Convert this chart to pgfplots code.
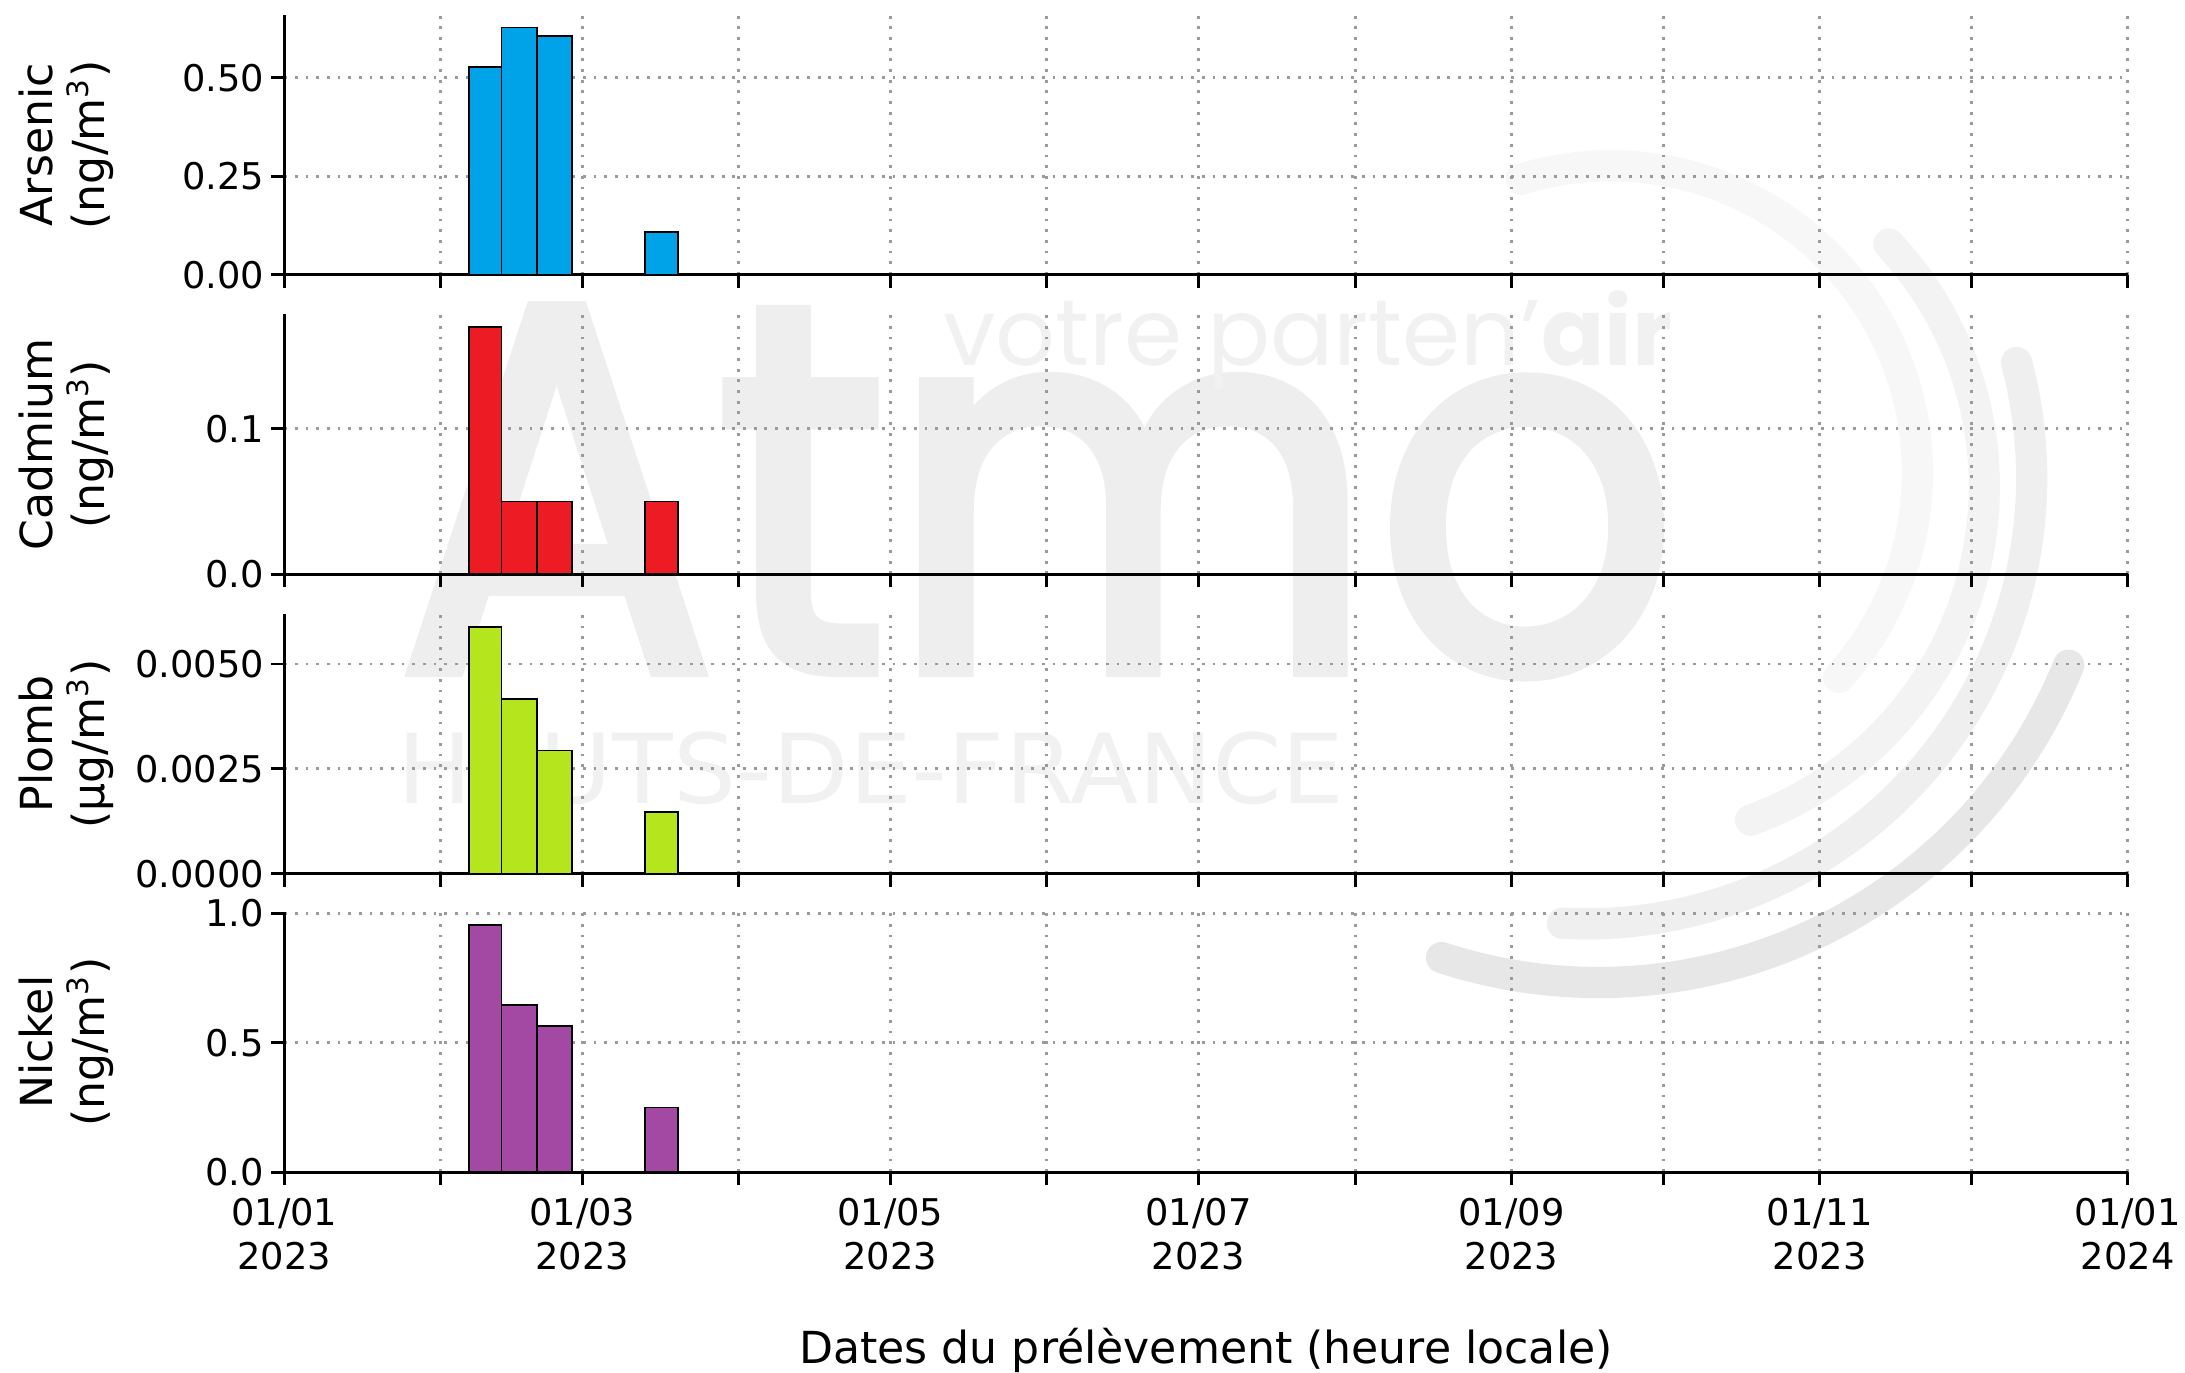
\documentclass[border=0pt]{standalone}
\usepackage{fontspec}
\setmainfont{DejaVu Sans}
\newfontfamily\logofont{Poppins}
\newfontfamily\logoheavy[FakeBold=2.5]{Poppins}
\usepackage{pgfplots}
\pgfplotsset{compat=1.18}

\definecolor{asblue}{HTML}{00A2E8}
\definecolor{cdred}{HTML}{ED1C24}
\definecolor{pblime}{HTML}{B5E61D}
\definecolor{nipurple}{HTML}{A349A4}
\definecolor{gridgray}{HTML}{9A9A9A}

\pgfplotsset{
  panel/.style={
    scale only axis,
    width=501pt, height=70.6pt,
    anchor=south west,
    xmin=0, xmax=365, ymin=0,
    axis x line*=bottom, axis y line*=left,
    x axis line style={-, line width=0.8pt},
    y axis line style={-, line width=0.8pt},
    tick align=outside,
    major tick length=3.5pt,
    every tick/.style={black, line width=0.8pt},
    xtick={0,31,59,90,120,151,181,212,243,273,304,334,365},
    xticklabels={},
    scaled y ticks=false,
    xmajorgrids, ymajorgrids,
    major grid style={gridgray, line width=0.8pt, dash pattern=on 0.75pt off 2.15pt},
    yticklabel style={inner xsep=1.8pt},
    % rotate=90 turns the shift: yshift moves the label to the left
    ylabel style={at={(rel axis cs:0,0.5)}, anchor=south, yshift=42.9pt,
      align=center, font=\fontsize{12}{14}\selectfont},
  },
  bars/.style={ybar, bar shift=0pt, draw=black, line width=0.5pt, fill=#1},
}

\begin{document}
\begin{tikzpicture}
\useasboundingbox (0,0) rectangle (593.8pt,372.9pt);

% watermark (logo) behind the panels
\begin{scope}[x=0.3787pt, y=-0.3787pt, shift={(0pt,372.9pt)}]
  \begin{scope}[line cap=round, line width=8.5pt]
  \draw[color={rgb,255:red,247;green,247;blue,247}]
    (1156,339) ++(-107:220) arc[start angle=-107, end angle=42, radius=220];
  \draw[color={rgb,255:red,243;green,243;blue,243}]
    (1169,349) ++(-43:255) arc[start angle=-43, end angle=70, radius=255];
  \draw[color={rgb,255:red,239;green,239;blue,239}]
    (1138,343) ++(-15:320) arc[start angle=-15, end angle=93, radius=320];
  \draw[color={rgb,255:red,231;green,231;blue,231}]
    (1147,341) ++(22:364) arc[start angle=22, end angle=108, radius=364];
  \end{scope}
  \node[anchor=base west, inner sep=0pt, outer sep=0pt, text={rgb,255:red,238;green,238;blue,238}]
    at (285,481) {\resizebox{348pt}{98.5pt}{\logoheavy Atmo}};
  \node[anchor=base west, inner sep=0pt, outer sep=0pt, text={rgb,255:red,241;green,241;blue,241}]
    at (677,262.6) {\resizebox{198pt}{!}{\logofont votre parten’\bfseries air}};
  \node[anchor=base west, inner sep=0pt, outer sep=0pt, text={rgb,255:red,241;green,241;blue,241}]
    at (285,576.4) {\resizebox{257.5pt}{19.5pt}{HAUTS-DE-FRANCE}};
\end{scope}

\begin{axis}[panel, at={(77.25pt,298.26pt)}, ymax=0.66,
  ytick={0,0.25,0.5}, yticklabels={0.00,0.25,0.50},
  ylabel={Arsenic\\(ng/m\textsuperscript{3})}]
\addplot[bars=asblue, bar width=6.4] coordinates {(39.8,0.528)};
\addplot[bars=asblue, bar width=7] coordinates {(46.5,0.628) (53.5,0.607)};
\addplot[bars=asblue, bar width=6.4] coordinates {(74.7,0.108)};
\end{axis}

\begin{axis}[panel, at={(77.25pt,216.84pt)}, ymax=0.1785,
  ytick={0,0.1}, yticklabels={0.0,0.1},
  ylabel={Cadmium\\(ng/m\textsuperscript{3})}]
\addplot[bars=cdred, bar width=6.4] coordinates {(39.8,0.170)};
\addplot[bars=cdred, bar width=7] coordinates {(46.5,0.050) (53.5,0.050)};
\addplot[bars=cdred, bar width=6.4] coordinates {(74.7,0.050)};
\end{axis}

\begin{axis}[panel, at={(77.25pt,135.42pt)}, ymax=0.00619,
  ytick={0,0.0025,0.005}, yticklabels={0.0000,0.0025,0.0050},
  ylabel={Plomb\\(µg/m\textsuperscript{3})}]
\addplot[bars=pblime, bar width=6.4] coordinates {(39.8,0.00589)};
\addplot[bars=pblime, bar width=7] coordinates {(46.5,0.00417) (53.5,0.00294)};
\addplot[bars=pblime, bar width=6.4] coordinates {(74.7,0.00148)};
\end{axis}

\begin{axis}[panel, at={(77.25pt,54.38pt)}, ymax=1.005,
  ytick={0,0.5,1}, yticklabels={0.0,0.5,1.0},
  ylabel={Nickel\\(ng/m\textsuperscript{3})},
  xticklabels={{01/01\\2023},{},{01/03\\2023},{},{01/05\\2023},{},{01/07\\2023},{},{01/09\\2023},{},{01/11\\2023},{},{01/01\\2024}},
  xticklabel style={align=center},
  xlabel={Dates du prélèvement (heure locale)},
  xlabel style={at={(rel axis cs:0.5,0)}, anchor=base, yshift=-51.9pt,
    font=\fontsize{12}{14}\selectfont}]
\addplot[bars=nipurple, bar width=6.4] coordinates {(39.8,0.957)};
\addplot[bars=nipurple, bar width=7] coordinates {(46.5,0.647) (53.5,0.565)};
\addplot[bars=nipurple, bar width=6.4] coordinates {(74.7,0.250)};
\end{axis}
\end{tikzpicture}
\end{document}
